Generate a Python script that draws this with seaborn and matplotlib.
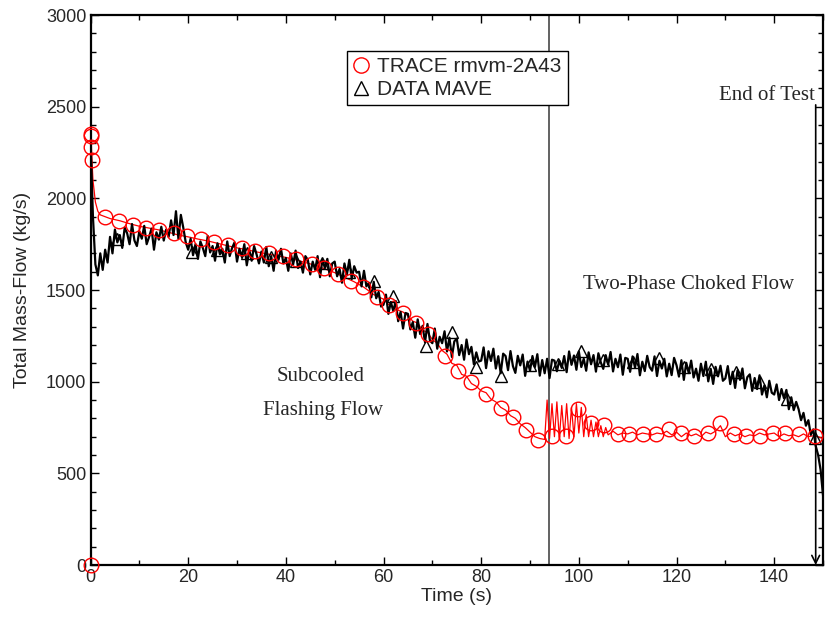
import numpy as np
import pandas as pd
import matplotlib
matplotlib.use("Agg")
import matplotlib.pyplot as plt
from matplotlib.ticker import MultipleLocator
from matplotlib.lines import Line2D
import seaborn as sns

# ---------------- data ----------------
# DATA MAVE measured mass flow, sampled every 0.5 s from 0 to 150 s
data_dt = 0.5
data_v = [
    2320, 1900, 1640, 1580, 1700, 1610, 1720, 1650, 1790, 1700,
    1830, 1760, 1800, 1730, 1840, 1810, 1750, 1860, 1770, 1740,
    1820, 1780, 1850, 1750, 1790, 1835, 1720, 1815, 1775, 1845,
    1770, 1830, 1790, 1880, 1800, 1930, 1780, 1910, 1840, 1760,
    1720, 1780, 1690, 1750, 1670, 1765, 1730, 1685, 1795, 1705,
    1740, 1660, 1755, 1695, 1725, 1650, 1765, 1685, 1730, 1760,
    1655, 1725, 1680, 1750, 1635, 1715, 1660, 1740, 1695, 1645,
    1710, 1650, 1735, 1630, 1685, 1605, 1715, 1665, 1725, 1645,
    1675, 1605, 1700, 1640, 1715, 1620, 1655, 1595, 1685, 1665,
    1585, 1655, 1610, 1685, 1570, 1665, 1620, 1670, 1575, 1645,
    1655, 1575, 1615, 1540, 1645, 1585, 1665, 1560, 1630, 1595,
    1600, 1520, 1605, 1520, 1540, 1460, 1545, 1455, 1490, 1410,
    1420, 1475, 1370, 1435, 1385, 1440, 1330, 1380, 1290, 1375,
    1370, 1285, 1325, 1240, 1340, 1260, 1305, 1215, 1315, 1225,
    1210, 1290, 1180, 1245, 1210, 1275, 1165, 1240, 1135, 1220,
    1235, 1145, 1200, 1120, 1230, 1150, 1190, 1095, 1160, 1110,
    1115, 1187, 1074, 1166, 1113, 1180, 1072, 1139, 1046, 1153,
    1140, 1063, 1167, 1085, 1048, 1141, 1089, 1148, 1032, 1110,
    1060, 1140, 1080, 1150, 1033, 1118, 1046, 1125, 1020, 1120,
    1115, 1057, 1115, 1075, 1140, 1052, 1165, 1092, 1143, 1065,
    1165, 1080, 1125, 1060, 1160, 1095, 1145, 1055, 1155, 1105,
    1070, 1145, 1093, 1162, 1056, 1125, 1079, 1148, 1038, 1130,
    1125, 1054, 1138, 1077, 1151, 1035, 1109, 1058, 1141, 1080,
    1060, 1138, 1031, 1114, 1072, 1125, 1029, 1098, 1036, 1130,
    1090, 1028, 1117, 1010, 1103, 1047, 1115, 1023, 1071, 1005,
    1098, 1031, 1109, 1002, 1070, 988, 1081, 1029, 1087, 1005,
    1018, 1085, 987, 1054, 966, 1063, 1010, 1072, 964, 1025,
    1040, 950, 1020, 960, 1035, 930, 980, 915, 1005, 940,
    930, 985, 900, 960, 910, 955, 850, 915, 845, 890,
    850, 790, 830, 760, 790, 710, 740, 650, 600, 520,
    380,
]
data_t = np.arange(len(data_v)) * data_dt

# DATA MAVE symbols
data_mk_t = [5.5, 20.8, 26, 32, 37, 42, 47.5, 53, 58, 62, 68.6, 74, 79, 84, 90,
             95.7, 100.4, 105, 111, 116.5, 121.6, 127, 132.2, 137, 142.7, 148.3]
data_mk_v = [1780, 1710, 1720, 1700, 1680, 1660, 1650, 1600, 1550, 1467, 1193, 1270,
             1078, 1029, 1090, 1095, 1166, 1120, 1110, 1128, 1078, 1067, 1051, 1000,
             903, 695]

# TRACE rmvm-2A43 calculation
trace_t = [0, 0.05, 0.1, 0.2, 0.3, 0.5, 1, 1.5, 2, 3, 4, 6, 8, 10, 12, 14, 16, 18,
           20, 22, 24, 26, 28, 30, 32, 34, 36, 38, 40, 42, 44, 46, 48, 50, 52, 54,
           56, 58, 60, 61, 62, 63, 64, 65, 66, 67, 68, 69, 70, 71, 72, 73, 74, 75,
           76, 77, 78, 79, 80, 81, 82, 83, 84, 85, 86, 87, 88, 89, 90, 91, 92, 93,
           93.5, 94, 94.5, 95, 95.5, 96, 96.5, 97, 97.5, 98, 98.5, 99, 99.5, 100,
           100.5, 101, 101.5, 102, 102.5, 103, 103.5, 104, 104.5, 105, 105.5, 106,
           107, 108, 109, 110, 111, 112, 113, 114, 115, 116, 117, 118, 119, 120,
           121, 122, 123, 124, 125, 126, 127, 128, 129, 130, 131, 132, 133, 134,
           135, 136, 137, 138, 139, 140, 141, 142, 143, 144, 145, 146, 147, 148,
           149, 150]
trace_v = [0, 2350, 2345, 2280, 2210, 2100, 1980, 1930, 1910, 1900, 1890, 1878,
           1862, 1848, 1838, 1828, 1815, 1800, 1790, 1778, 1768, 1755, 1742, 1730,
           1720, 1708, 1698, 1688, 1678, 1665, 1650, 1635, 1615, 1595, 1570, 1545,
           1515, 1475, 1450, 1420, 1440, 1390, 1380, 1360, 1330, 1320, 1280, 1270,
           1230, 1210, 1170, 1150, 1100, 1090, 1040, 1030, 990, 975, 950, 940, 905,
           890, 860, 845, 815, 800, 770, 750, 725, 700, 690, 685,
           900, 690, 880, 700, 890, 690, 870, 700, 880, 690, 860, 700, 880, 720,
           860, 700, 820, 700, 790, 700, 780, 700, 760, 700, 750, 710,
           730, 710, 720, 715, 725, 710, 720, 715, 710, 720, 715, 730, 710, 725,
           700, 720, 705, 715, 700, 725, 715, 730, 760, 700, 720, 705, 715, 700,
           710, 705, 720, 710, 715, 720, 700, 715, 705, 710, 700, 715, 700, 705,
           700, 690]

# TRACE symbols
trace_mk_t = [0, 0.05, 0.1, 0.2, 0.35, 2.9, 5.9, 8.6, 11.4, 14, 17, 19.7, 22.6,
              25.3, 28.2, 31, 33.7, 36.5, 39.4, 42, 45.3, 47.8, 50.6, 53.3, 55.7,
              58.6, 61.2, 64, 66.6, 69.2, 72.6, 75.3, 77.9, 81, 84.1, 86.5, 89.2,
              91.6, 94.4, 97.4, 99.8, 102.5, 105.2, 108, 110.3, 113.1, 115.8,
              118.5, 121, 123.6, 126.5, 129, 131.7, 134.3, 137, 139.8, 142.3, 145,
              148.3]
trace_mk_v = [0, 2350, 2340, 2280, 2210, 1900, 1878, 1856, 1840, 1828, 1812, 1795,
              1778, 1763, 1748, 1730, 1715, 1700, 1686, 1668, 1640, 1620, 1590,
              1550, 1516, 1462, 1420, 1375, 1320, 1260, 1139, 1057, 996, 931, 859,
              805, 739, 684, 702, 706, 852, 776, 766, 717, 712, 712, 712, 743, 721,
              702, 721, 776, 712, 702, 702, 721, 721, 712, 702]

end_of_test = 148.5
phase_change = 93.9

# ---------------- plot ----------------
sns.set_style("ticks")
plt.rcParams["font.family"] = ["Liberation Sans", "DejaVu Sans"]

fig = plt.figure(figsize=(8.25, 6.22), dpi=100)
ax = fig.add_axes([0.1097, 0.0916, 0.8879, 0.8842])

df_data = pd.DataFrame({"t": data_t, "v": data_v})
df_trace = pd.DataFrame({"t": trace_t, "v": trace_v})

sns.lineplot(data=df_data, x="t", y="v", ax=ax, color="black", lw=1.6,
             estimator=None, sort=False, zorder=3)
sns.lineplot(data=df_trace, x="t", y="v", ax=ax, color="red", lw=0.9,
             estimator=None, sort=False, zorder=2)

ax.plot(data_mk_t, data_mk_v, ls="none", marker="^", ms=9, mfc="none",
        mec="black", mew=1.0, zorder=3, clip_on=False)
ax.plot(trace_mk_t, trace_mk_v, ls="none", marker="o", ms=10.5, mfc="none",
        mec="red", mew=1.0, zorder=4, clip_on=False)

# vertical phase line and end-of-test arrow
ax.axvline(phase_change, color="#555555", lw=1.3, zorder=1)
ax.annotate("", xy=(end_of_test, 0), xytext=(end_of_test, 2510),
            arrowprops=dict(arrowstyle="->", color="black", lw=1.2,
                            mutation_scale=14, shrinkA=0, shrinkB=0))

serif = ["Liberation Serif", "DejaVu Serif"]
ax.text(end_of_test - 0.2, 2510, "End of Test", family=serif, fontsize=15,
        ha="right", va="bottom")
ax.text(122.4, 1530, "Two-Phase Choked Flow", family=serif, fontsize=15,
        ha="center", va="center")
ax.text(47.1, 1027, "Subcooled", family=serif, fontsize=15, ha="center",
        va="center")
ax.text(47.6, 845, "Flashing Flow", family=serif, fontsize=15, ha="center",
        va="center")

ax.set_xlim(0, 150)
ax.set_ylim(0, 3000)
ax.xaxis.set_major_locator(MultipleLocator(20))
ax.xaxis.set_minor_locator(MultipleLocator(10))
ax.yaxis.set_major_locator(MultipleLocator(500))
ax.yaxis.set_minor_locator(MultipleLocator(100))
ax.tick_params(which="both", direction="in", top=True, right=True,
               labelsize=13, width=1.0, color="black")
ax.tick_params(which="major", length=6, pad=3)
ax.tick_params(which="minor", length=3.5)
for s in ax.spines.values():
    s.set_linewidth(1.6)
    s.set_color("black")

ax.set_xlabel("Time (s)", fontsize=14, labelpad=1)
ax.set_ylabel("Total Mass-Flow (kg/s)", fontsize=14, labelpad=11)

handles = [
    Line2D([], [], ls="none", marker="o", ms=11, mfc="none", mec="red", mew=1.0),
    Line2D([], [], ls="none", marker="^", ms=10, mfc="none", mec="black", mew=1.0),
]
leg = ax.legend(handles, ["TRACE rmvm-2A43", "DATA MAVE"], loc="upper left",
                bbox_to_anchor=(0.35, 0.935), fontsize=15, frameon=True,
                fancybox=False, framealpha=1, edgecolor="black",
                handlelength=0.8, handletextpad=0.35, borderpad=0.3,
                labelspacing=0.2, borderaxespad=0)
leg.get_frame().set_linewidth(1.0)

fig.savefig("out.png", dpi=100)
